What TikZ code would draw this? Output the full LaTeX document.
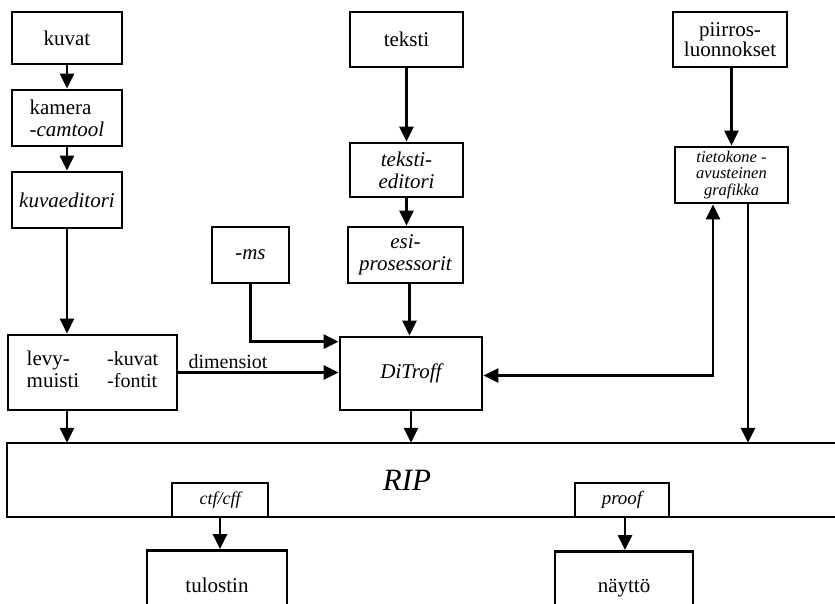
\documentclass[tikz,border=0pt]{standalone}
\usepackage{fontspec}
\setmainfont{Liberation Serif}
\usetikzlibrary{arrows.meta,calc}
\begin{document}
\begin{tikzpicture}[x=1pt,y=-1pt,
  box/.style={draw,line width=2.8pt,inner sep=1pt,align=center,fill=white,
    font=\fontsize{21}{22}\selectfont},
  itbox/.style={box,font=\fontsize{21}{22}\selectfont\itshape},
  arr/.style={line width=2.6pt,-{Triangle[length=15pt,width=14pt]}},
  biarr/.style={line width=2.6pt,{Triangle[length=15pt,width=14pt]}-{Triangle[length=15pt,width=14pt]}},
  plain/.style={line width=2.8pt}]
\useasboundingbox (0,0) rectangle (835,603);

% left column
\node[box,minimum width=110pt,minimum height=52pt] (kuvat) at (67,38) {kuvat};
\node[box,minimum width=110pt,minimum height=56pt,align=left] (kamera) at (67,118)
  {kamera\\\textit{-camtool}};
\node[itbox,minimum width=110pt,minimum height=56pt] (kuvaed) at (67,200) {kuvaeditori};

% middle column
\node[box,minimum width=113pt,minimum height=55pt] (teksti) at (406.5,39.5) {teksti};
\node[itbox,minimum width=113pt,minimum height=54pt] (tekstied) at (406.5,170) {teksti-\\editori};
\node[itbox,minimum width=115pt,minimum height=56pt] (esipros) at (405.5,255) {esi-\\prosessorit};
\node[itbox,minimum width=77pt,minimum height=56pt] (ms) at (250.5,255) {-ms};

% right column
\node[box,minimum width=114pt,minimum height=55pt,font=\fontsize{21}{20}\selectfont] (piirros) at (730,39.5) {piirros-\\luonnokset};
\node[box,minimum width=113pt,minimum height=56pt,font=\fontsize{16.5}{16.5}\selectfont\itshape] (tieto) at (731.5,175)
  {tietokone -\\avusteinen\\grafikka};

% middle row
\node[box,minimum width=169pt,minimum height=75pt] (levy) at (92.5,372.5)
  {\begin{tabular}{@{}l@{\hspace{28pt}}l@{}}levy- & {\fontsize{20}{22}\selectfont -kuvat}\\
   muisti & {\fontsize{20}{22}\selectfont -fontit}\end{tabular}};
\node[itbox,minimum width=142pt,minimum height=73pt] (ditroff) at (411,373.5) {DiTroff};

% RIP
\draw[plain] (836,443) -- (7,443) -- (7,517) -- (836,517);
\node[font=\fontsize{31}{32}\selectfont\itshape,minimum height=74pt,inner sep=0pt] (rip) at (407,480) {RIP};
\node[itbox,minimum width=96pt,minimum height=34pt,font=\fontsize{18}{20}\selectfont\itshape] (ctf) at (220,500) {ctf/cff};
\node[itbox,minimum width=94pt,minimum height=34pt,font=\fontsize{19}{20}\selectfont\itshape] (proof) at (622,500) {proof};

% outputs (cut off at the bottom)
\node[box,anchor=north,minimum width=140pt,minimum height=80pt] (tulostin) at (217,549) {\raisebox{11pt}{tulostin}};
\node[box,anchor=north,minimum width=138pt,minimum height=80pt] (naytto) at (624,550) {\raisebox{11pt}{näyttö}};

% connectors
\draw[arr] (kuvat) -- (kamera);
\draw[arr] (kamera) -- (kuvaed);
\draw[arr] (kuvaed.south) -- (kuvaed.south |- levy.north);
\draw[arr] (teksti) -- (tekstied);
\draw[arr] (tekstied.south) -- (tekstied.south |- esipros.north);
\draw[arr] ([xshift=4pt]esipros.south) -- ([xshift=4pt]esipros.south |- ditroff.north);
\draw[arr] (ms.south) |- ([yshift=-6pt]ditroff.north west);
\draw[arr] (levy.east) -- node[above,pos=0.31,inner sep=3pt,font=\fontsize{20}{22}\selectfont] {dimensiot} (levy.east -| ditroff.west);
\draw[arr] (piirros.south -| tieto.north) -- (tieto.north);
\draw[biarr] ([xshift=-18.5pt]tieto.south) |- ([yshift=-2pt]ditroff.east);
\draw[arr] ([xshift=16.5pt]tieto.south) -- ([xshift=16.5pt]tieto.south |- rip.north);
\draw[arr] (kuvaed.south |- levy.south) -- (kuvaed.south |- rip.north);
\draw[arr] (ditroff.south) -- (ditroff.south |- rip.north);
\draw[arr] (ctf.south) -- (ctf.south |- tulostin.north);
\draw[arr] ([xshift=3pt]proof.south) -- ([xshift=3pt]proof.south |- naytto.north);
\end{tikzpicture}
\end{document}
